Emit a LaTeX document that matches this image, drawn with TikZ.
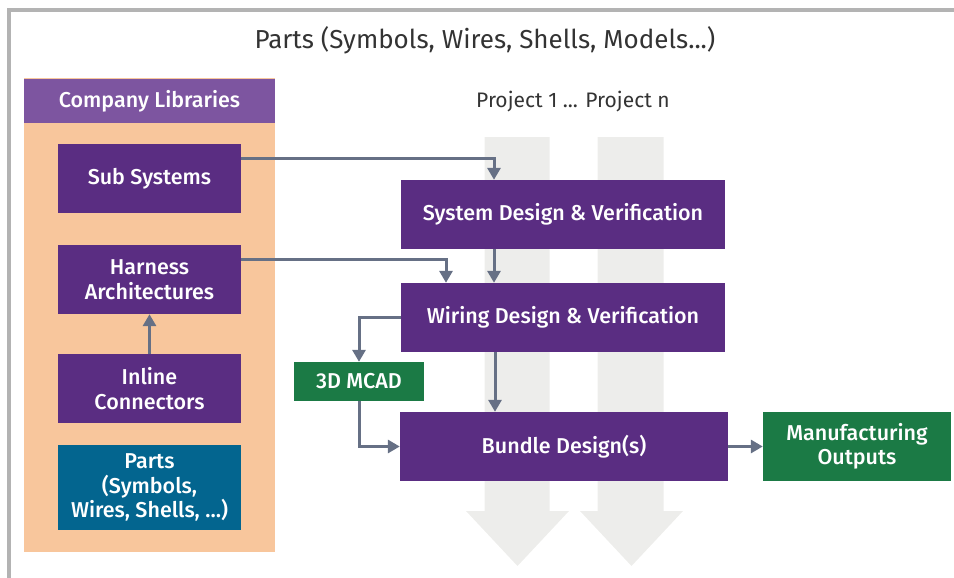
\documentclass[tikz,border=0pt]{standalone}
\usepackage{fontspec}
\setmainfont{Fira Sans}
\newfontfamily\medfont{Fira Sans Medium}
\usetikzlibrary{arrows.meta}
\definecolor{boxpurple}{RGB}{90,45,130}
\definecolor{headpurple}{RGB}{125,85,160}
\definecolor{liborange}{RGB}{248,198,156}
\definecolor{partsteal}{RGB}{3,101,143}
\definecolor{outgreen}{RGB}{27,122,69}
\definecolor{bargray}{RGB}{237,237,235}
\definecolor{conngray}{RGB}{102,112,133}
\definecolor{framegray}{RGB}{179,179,179}
\definecolor{textdark}{RGB}{51,51,51}
\begin{document}
\begin{tikzpicture}[x=1pt,y=-1pt,
  box/.style={fill=boxpurple, text=white, inner sep=0pt, align=center,
    font=\medfont\fontsize{21.5}{24.5}\selectfont},
  libbox/.style={box, minimum width=183pt, minimum height=69pt},
  flowbox/.style={box, minimum width=324pt, minimum height=69pt},
  greenbox/.style={box, fill=outgreen},
  conn/.style={draw=conngray, line width=3pt, -{Triangle[width=13pt,length=12pt]}},
  bigarrow/.style={fill=bargray}
]
\useasboundingbox (0,0) rectangle (954,578);
% frame
\draw[framegray, line width=4pt] (8.5,578) -- (8.5,10) -- (954,10);
% title
\node[text=textdark, font=\fontsize{26}{30}\selectfont] (title) at (485,40) {Parts (Symbols, Wires, Shells, Models...)};
\node[text=textdark, font=\fontsize{21}{25}\selectfont] (proj) at (573,102) {Project 1 ... Project n};
% big gray project arrows
\fill[bigarrow] (484.5,137) -- (549.5,137) -- (549.5,511) -- (569,511) -- (517.5,566) -- (466,511) -- (484.5,511) -- cycle;
\fill[bigarrow] (597.5,137) -- (663.5,137) -- (663.5,511) -- (683,511) -- (631.5,566) -- (580,511) -- (597.5,511) -- cycle;
% library panel
\node[fill=liborange, inner sep=0pt, minimum width=251pt, minimum height=474pt] (lib) at (149.5,315) {};
\node[box, fill=headpurple, minimum width=251pt, minimum height=44pt] (libhead) at (149.5,101) {Company Libraries};
\node[libbox] (sub) at (149.5,178.5) {Sub Systems};
\node[libbox] (harn) at (149.5,279.5) {Harness\\Architectures};
\node[libbox] (inl) at (149.5,388.5) {Inline\\Connectors};
\node[libbox, fill=partsteal, minimum height=85pt] (parts) at (149.5,487.5) {Parts\\(Symbols,\\Wires, Shells, \dots)};
% flow
\node[flowbox] (sys) at (563,214.5) {System Design \& Verification};
\node[flowbox] (wir) at (563,317.5) {Wiring Design \& Verification};
\node[greenbox, minimum width=130pt, minimum height=39pt] (mcad) at (359,381.5) {3D MCAD};
\node[flowbox, minimum width=328pt] (bun) at (564,446.5) {Bundle Design(s)};
\node[greenbox, minimum width=188pt, minimum height=69pt] (mfg) at (857,446.5) {Manufacturing\\Outputs};
% connectors
\draw[conn] ([yshift=20.5pt]sub.east) -| ([xshift=-69pt]sys.north);
\draw[conn] ([yshift=20.5pt]harn.east) -| ([xshift=-117pt]wir.north);
\draw[conn] ([xshift=-69pt]sys.south) -- ([xshift=-69pt]wir.north);
\draw[conn] (inl.north) -- (harn.south);
\draw[conn] (wir.west) -| (mcad.north);
\draw[conn] ([xshift=-68pt]wir.south) coordinate (t) -- (t |- bun.north);
\draw[conn] (mcad.south) |- (bun.west);
\draw[conn] (bun.east) -- (mfg.west);
\end{tikzpicture}
\end{document}
